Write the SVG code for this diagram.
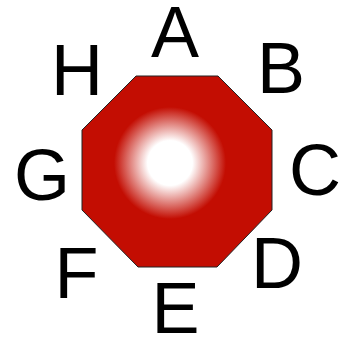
<svg xmlns="http://www.w3.org/2000/svg" width="340" height="339" viewBox="0 0 340 339">
<style>
.lbl{font-family:"Liberation Sans",Arial,sans-serif;font-size:72px;fill:#000;text-anchor:middle}
</style>
<defs>
<radialGradient id="glow" gradientUnits="userSpaceOnUse" cx="170" cy="163" r="56">
<stop offset="0" stop-color="#ffffff"/>
<stop offset="0.4" stop-color="#ffffff"/>
<stop offset="1" stop-color="#c30d02"/>
</radialGradient>
</defs>
<rect width="340" height="339" fill="#fff"/>
<g id="octagon">
<polygon points="136,76 218,76 272,130 272,210 217,267 138,267 82,210 82,130" fill="url(#glow)" stroke="#222" stroke-width="1"/>
</g>
<g id="labels">
<text class="lbl" x="175" y="57">A</text>
<text class="lbl" x="281" y="93">B</text>
<text class="lbl" x="315" y="195">C</text>
<text class="lbl" x="277" y="288">D</text>
<text class="lbl" x="175.5" y="333">E</text>
<text class="lbl" x="76.5" y="298">F</text>
<text class="lbl" x="42" y="200">G</text>
<text class="lbl" x="77" y="95">H</text>
</g>
</svg>
